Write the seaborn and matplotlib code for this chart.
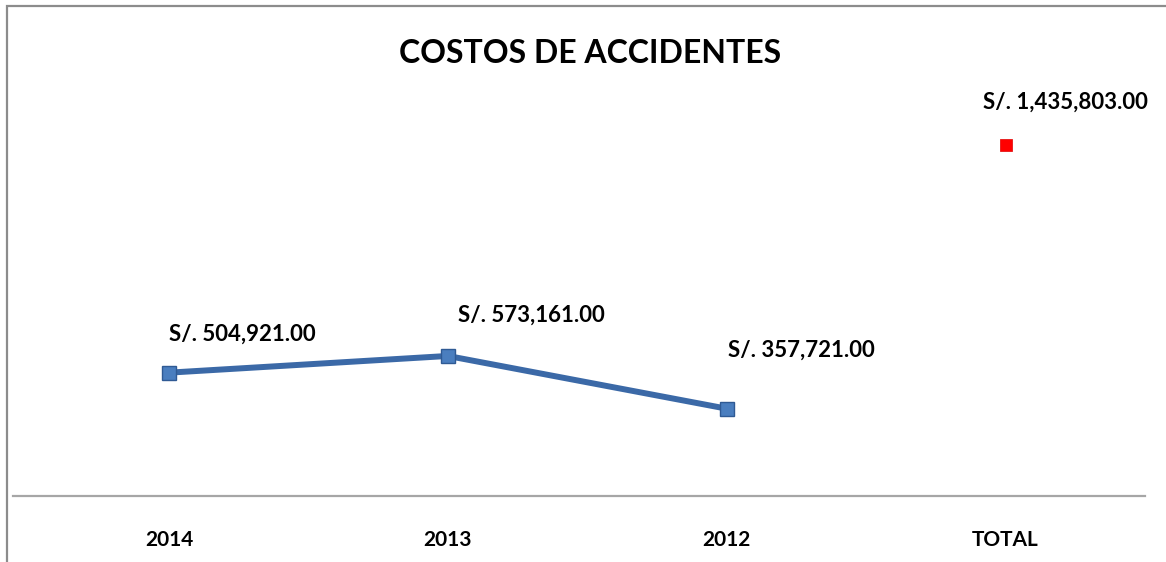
import numpy as np
import pandas as pd
import matplotlib
matplotlib.use("Agg")
import matplotlib.pyplot as plt
import seaborn as sn

# datos del grafico
categorias = ["2014", "2013", "2012", "TOTAL"]
costos_anuales = [504921.00, 573161.00, 357721.00]
costo_total = 1435803.00
titulo = "COSTOS DE ACCIDENTES"

sn.set_style("white")
plt.rcParams['font.family'] = ['Lato', 'DejaVu Sans']
plt.rcParams['text.color'] = 'black'
plt.rcParams['xtick.color'] = 'black'

df_anual = pd.DataFrame({'pos': range(len(costos_anuales)), 'costo': costos_anuales})
df_total = pd.DataFrame({'pos': [len(categorias) - 1], 'costo': [costo_total]})

fig = plt.figure(figsize=(11.66, 5.62), dpi=100)
ax = fig.add_axes([0.011, 0.117, 0.971, 0.723])

# linea de los anios
sn.lineplot(data=df_anual, x='pos', y='costo', ax=ax, color='#3B69A7', linewidth=4.3,
            marker='s', markersize=10.5, markerfacecolor='#4A7EBF', markeredgecolor='#2F5A94',
            markeredgewidth=1.0)
# punto del total
sn.scatterplot(data=df_total, x='pos', y='costo', ax=ax, color='#FF0000', marker='s',
               s=85, edgecolor='#E00000', linewidth=0.5, zorder=3)

# etiquetas de datos
offsets = [(0, 28), (7, 29), (1, 42), (-16, 31)]
valores = costos_anuales + [costo_total]
for i, v in enumerate(valores):
    ax.annotate("S/. {:,.2f}".format(v), (i, v), xytext=offsets[i], textcoords='offset points',
                fontsize=16, fontweight='bold', ha='left', va='center', color='black')

ax.set_xlim(-0.56, 3.5)
ax.set_ylim(0, 1.66e6)
ax.set_xticks(range(len(categorias)))
ax.set_xticklabels(categorias, fontsize=15, fontweight='bold', color='black')
ax.tick_params(axis='x', length=0, pad=24)
ax.set_yticks([])
ax.set_xlabel('')
ax.set_ylabel('')
for s in ['top', 'left', 'right']:
    ax.spines[s].set_visible(False)
ax.spines['bottom'].set_color('#A6A6A6')
ax.spines['bottom'].set_linewidth(1.6)

fig.text(0.506, 0.905, titulo, ha='center', va='center', fontsize=23, fontweight='bold',
         color='black')

# marco del grafico (recortado a la derecha y abajo)
marco = plt.Rectangle((0.006, -0.05), 1.1, 1.04, transform=fig.transFigure, fill=False,
                      edgecolor='#8C8C8C', linewidth=1.6)
fig.patches.append(marco)

fig.savefig('out.png', dpi=100)
